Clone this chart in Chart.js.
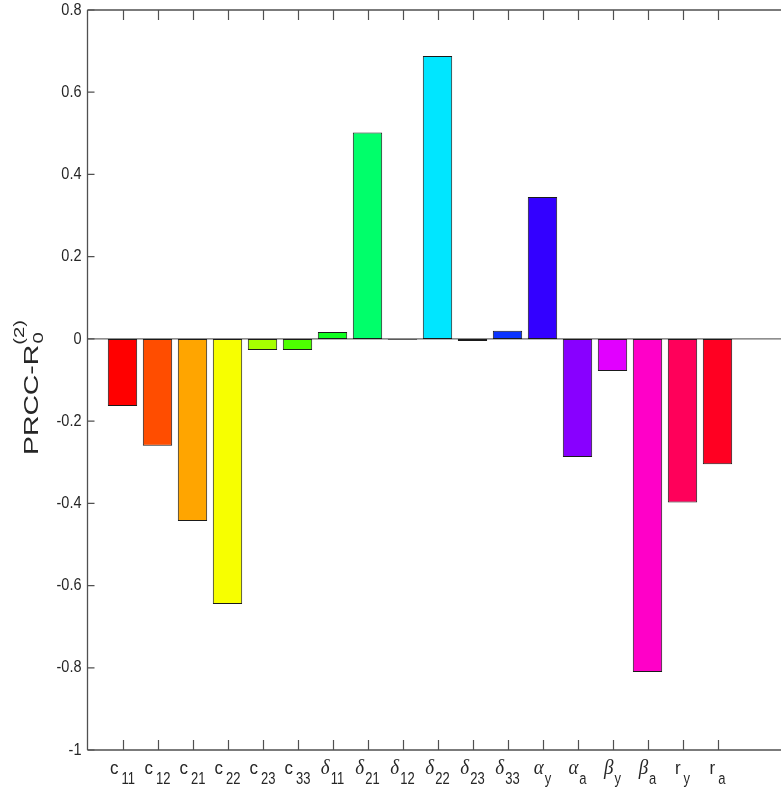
<!DOCTYPE html>
<html>
<head>
<meta charset="utf-8">
<script src="https://cdn.jsdelivr.net/npm/chart.js@4.4.0/dist/chart.umd.min.js"></script>
<style>
html,body{margin:0;padding:0;background:#fff;overflow:hidden;}
#wrap{width:790px;height:792px;}
</style>
</head>
<body>
<div id="wrap"><canvas id="c" width="790" height="792"></canvas></div>
<script>
// ---- data ----
const labelBase = ['c','c','c','c','c','c','δ','δ','δ','δ','δ','δ','α','α','β','β','r','r'];
const labelSub  = ['11','12','21','22','23','33','11','21','12','22','23','33','y','a','y','a','y','a'];
const values = [-0.163,-0.260,-0.443,-0.645,-0.027,-0.027,0.017,0.502,-0.002,0.688,-0.005,0.020,0.345,-0.287,-0.078,-0.810,-0.398,-0.305];
const colors = ['#ff0000','#ff4d00','#ffa500','#f7ff00','#a6ff00','#4dff00','#10ff20','#00ff6a','#00ffb0','#00e6ff','#0090ff','#0a33ff','#3300ff','#8800ff','#e100ff','#ff00c8','#ff005a','#ff0022'];
const yTicks = [-1,-0.8,-0.6,-0.4,-0.2,0,0.2,0.4,0.6,0.8];
const yTickLabels = ['-1','-0.8','-0.6','-0.4','-0.2','0','0.2','0.4','0.6','0.8'];

const axisColor = '#505050';

const axesPlugin = {
  id: 'matlabAxes',
  beforeDatasetsDraw(chart) {
    const ctx = chart.ctx, y = chart.scales.y, a = chart.chartArea;
    const y0 = y.getPixelForValue(0);
    ctx.save();
    ctx.strokeStyle = '#6a6a6a';
    ctx.lineWidth = 1.3;
    ctx.beginPath(); ctx.moveTo(a.left, y0); ctx.lineTo(a.right, y0); ctx.stroke();
    ctx.restore();
  },
  afterDraw(chart) {
    const ctx = chart.ctx, x = chart.scales.x, y = chart.scales.y, a = chart.chartArea;
    ctx.save();
    ctx.strokeStyle = axisColor;
    ctx.lineWidth = 1.3;
    ctx.beginPath();
    ctx.moveTo(a.left, a.top); ctx.lineTo(a.right, a.top);
    ctx.moveTo(a.left, a.top); ctx.lineTo(a.left, a.bottom);
    ctx.moveTo(a.left, a.bottom); ctx.lineTo(a.right, a.bottom);
    ctx.stroke();
    ctx.lineWidth = 1.2;
    ctx.beginPath();
    for (let i = 0; i < labelSub.length; i++) {
      const px = Math.round(x.getPixelForValue(i + 1)) + 0.5;
      ctx.moveTo(px, a.bottom); ctx.lineTo(px, a.bottom - 10);
      ctx.moveTo(px, a.top); ctx.lineTo(px, a.top + 10);
    }
    yTicks.forEach(v => {
      const py = y.getPixelForValue(v);
      ctx.moveTo(a.left, py); ctx.lineTo(a.left + 7, py);
    });
    ctx.stroke();

    // y tick labels
    ctx.fillStyle = '#262626';
    ctx.textAlign = 'right';
    ctx.textBaseline = 'middle';
    yTicks.forEach((v, i) => {
      const py = y.getPixelForValue(v);
      ctx.save();
      ctx.translate(a.left - 6, py);
      ctx.scale(1, 1.18);
      ctx.font = '14.5px "Liberation Sans", Arial, sans-serif';
      ctx.fillText(yTickLabels[i], 0, 0);
      ctx.restore();
    });

    // x tick labels with subscripts
    const greek = new Set(['δ','α','β']);
    for (let i = 0; i < labelSub.length; i++) {
      const px = x.getPixelForValue(i + 1);
      const base = labelBase[i], sub = labelSub[i];
      const baseFont = greek.has(base) ? 'italic 19px "Liberation Serif", serif' : '17px "Liberation Sans", Arial, sans-serif';
      const subFont = '13px "Liberation Sans", Arial, sans-serif';
      ctx.font = baseFont; const wb = ctx.measureText(base).width;
      ctx.font = subFont; const ws = ctx.measureText(sub).width;
      const gap = greek.has(base) ? 1 : 3;
      const total = wb + gap + ws;
      const sx = px - total / 2;
      ctx.textAlign = 'left';
      ctx.textBaseline = 'alphabetic';
      ctx.save();
      ctx.translate(sx, 774);
      ctx.scale(1, 1.1);
      ctx.font = baseFont;
      ctx.fillText(base, 0, 0);
      ctx.restore();
      ctx.save();
      ctx.translate(sx + wb + gap, 784);
      ctx.scale(1, 1.3);
      ctx.font = subFont;
      ctx.fillText(sub, 0, 0);
      ctx.restore();
    }

    // y axis title: PRCC-R_0^(2)
    ctx.save();
    ctx.translate(38, 455);
    ctx.rotate(-Math.PI / 2);
    ctx.fillStyle = '#262626';
    ctx.textAlign = 'left';
    ctx.textBaseline = 'alphabetic';
    ctx.save();
    ctx.scale(1.35, 1);
    ctx.font = '21px "Liberation Sans", Arial, sans-serif';
    const main = 'PRCC-R';
    ctx.fillText(main, 0, 0);
    const wm = ctx.measureText(main).width;
    ctx.font = '15px "Liberation Sans", Arial, sans-serif';
    ctx.fillText('0', wm + 1, 5);
    ctx.fillText('(2)', wm + 0, -14);
    ctx.restore();
    ctx.restore();

    ctx.restore();
  }
};

new Chart(document.getElementById('c'), {
  type: 'bar',
  data: {
    datasets: [{
      data: values.map((v, i) => ({ x: i + 1, y: v })),
      backgroundColor: colors,
      borderColor: '#1a1a1a',
      borderWidth: 1,
      borderSkipped: false,
      barPercentage: 0.84,
      categoryPercentage: 1.0
    }]
  },
  options: {
    responsive: false,
    animation: false,
    devicePixelRatio: 1,
    layout: { padding: { left: 87.5, top: 10, right: 2.5, bottom: 42 } },
    plugins: { legend: { display: false }, tooltip: { enabled: false } },
    scales: {
      x: { type: 'linear', min: 0, max: 20, offset: false, display: false, grid: { display: false } },
      y: { type: 'linear', min: -1, max: 0.8, display: false, grid: { display: false } }
    }
  },
  plugins: [axesPlugin]
});
</script>
</body>
</html>
